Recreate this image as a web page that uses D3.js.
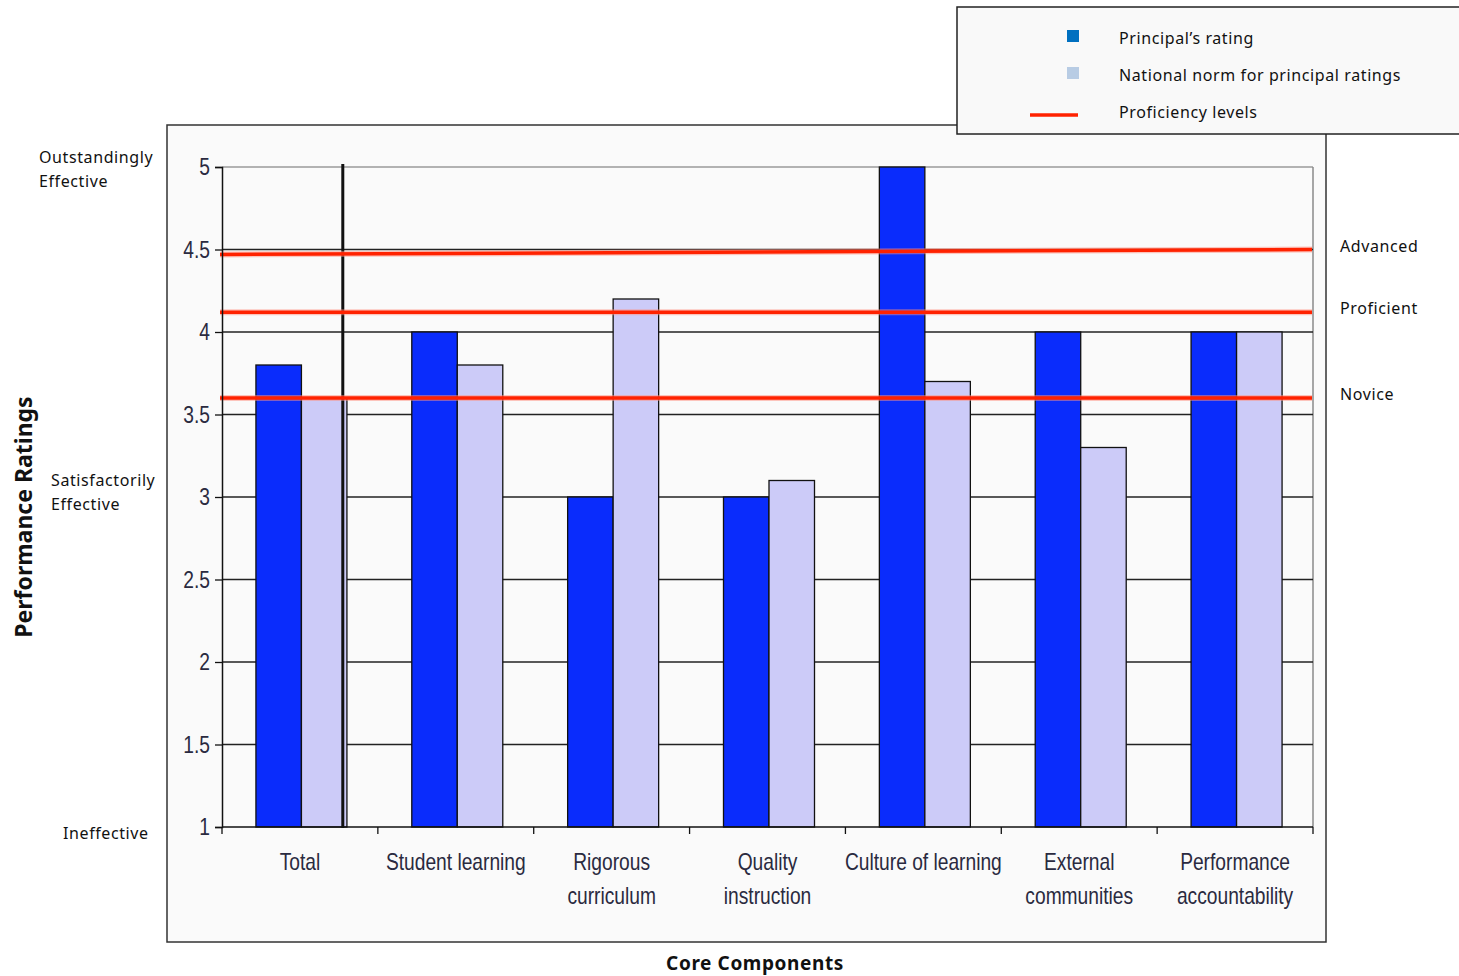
<!DOCTYPE html>
<html>
<head>
<meta charset="utf-8">
<script src="https://cdn.jsdelivr.net/npm/d3@7"></script>
<style>
  html, body { margin: 0; padding: 0; background: #ffffff; }
  svg { display: block; }
  .narrow { font-family: "Liberation Sans", Arial, sans-serif; }
  .soft { font-family: "Noto Sans", "DejaVu Sans", sans-serif; }
</style>
</head>
<body>
<svg id="chart" width="1459" height="976"></svg>
<script>
// Core components and ratings
const categories = [
  ["Total"],
  ["Student learning"],
  ["Rigorous", "curriculum"],
  ["Quality", "instruction"],
  ["Culture of learning"],
  ["External", "communities"],
  ["Performance", "accountability"]
];
const principalRating = [3.8, 4.0, 3.0, 3.0, 5.0, 4.0, 4.0];
const nationalNorm = [3.6, 3.8, 4.2, 3.1, 3.7, 3.3, 4.0];

// Proficiency levels (value at left edge, value at right edge)
const levelNames = ["Advanced", "Proficient", "Novice"];
const levelStart = [4.47, 4.12, 3.6];
const levelEnd = [4.5, 4.12, 3.6];

const yTicks = [1, 1.5, 2, 2.5, 3, 3.5, 4, 4.5, 5];
const descriptorValues = [5, 3, 1];
const descriptorLines = [["Outstandingly", "Effective"], ["Satisfactorily", "Effective"], ["Ineffective"]];
const legendItems = ["Principal\u2019s rating", "National norm for principal ratings", "Proficiency levels"];

const colPrincipal = "#0a2cfc";
const colNorm = "#cccbf8";
const colLevel = "#ff2200";
const squeeze = 0.8; // horizontal compression for the condensed axis lettering

const svg = d3.select("#chart");

const plot = { left: 222, right: 1313, top: 167, bottom: 827 };

const x = d3.scaleBand()
  .domain(d3.range(categories.length))
  .range([plot.left, plot.right]);
const bw = 45.5;
const y = d3.scaleLinear().domain([1, 5]).range([plot.bottom, plot.top]);

// Chart frame
svg.append("rect")
  .attr("x", 167).attr("y", 125).attr("width", 1159).attr("height", 817)
  .attr("fill", "#fafafa").attr("stroke", "#333").attr("stroke-width", 1.5);

// Plot area border (light)
svg.append("line")
  .attr("x1", plot.left).attr("x2", plot.right)
  .attr("y1", y(5)).attr("y2", y(5))
  .attr("stroke", "#9a9a9a").attr("stroke-width", 1.5);
svg.append("line")
  .attr("x1", plot.right).attr("x2", plot.right)
  .attr("y1", y(5)).attr("y2", y(1))
  .attr("stroke", "#8a8a8a").attr("stroke-width", 1.5);

// Horizontal gridlines
svg.append("g")
  .selectAll("line")
  .data(yTicks.filter(t => t > 1 && t < 5))
  .join("line")
  .attr("x1", plot.left).attr("x2", plot.right)
  .attr("y1", d => y(d)).attr("y2", d => y(d))
  .attr("stroke", "#222").attr("stroke-width", 1.3);

// Bars
const groups = svg.append("g")
  .selectAll("g")
  .data(categories.map((c, i) => i))
  .join("g")
  .attr("transform", i => `translate(${x(i) + (x.bandwidth() - 2 * bw) / 2 + 1.5},0)`);

groups.append("rect")
  .attr("x", 0)
  .attr("y", i => y(principalRating[i]))
  .attr("width", bw)
  .attr("height", i => y(1) - y(principalRating[i]))
  .attr("fill", colPrincipal).attr("stroke", "#111").attr("stroke-width", 1.3);

groups.append("rect")
  .attr("x", bw)
  .attr("y", i => y(nationalNorm[i]))
  .attr("width", bw)
  .attr("height", i => y(1) - y(nationalNorm[i]))
  .attr("fill", colNorm).attr("stroke", "#111").attr("stroke-width", 1.3);

// Separator after the Total group
svg.append("line")
  .attr("x1", x(0) + x.bandwidth() * 0.775).attr("x2", x(0) + x.bandwidth() * 0.775)
  .attr("y1", y(5) - 3).attr("y2", y(1) + 1)
  .attr("stroke", "#111").attr("stroke-width", 3);

// Proficiency level lines
const levels = svg.append("g");
const levelIdx = levelNames.map((n, i) => i);
levels.selectAll("line.glow")
  .data(levelIdx)
  .join("line")
  .attr("class", "glow")
  .attr("x1", plot.left - 2).attr("x2", plot.right - 1)
  .attr("y1", i => y(levelStart[i])).attr("y2", i => y(levelEnd[i]))
  .attr("stroke", "#ff9080").attr("stroke-width", 6).attr("opacity", 0.5);
levels.selectAll("line.core")
  .data(levelIdx)
  .join("line")
  .attr("class", "core")
  .attr("x1", plot.left - 2).attr("x2", plot.right - 1)
  .attr("y1", i => y(levelStart[i])).attr("y2", i => y(levelEnd[i]))
  .attr("stroke", colLevel).attr("stroke-width", 3.5);

levels.selectAll("text")
  .data(levelIdx)
  .join("text")
  .attr("class", "soft")
  .attr("x", 1340)
  .attr("y", i => y(levelEnd[i]) + 2)
  .attr("font-size", 16).attr("letter-spacing", 0.6)
  .attr("fill", "#111")
  .text(i => levelNames[i]);

// Y axis
const yAxis = svg.append("g")
  .attr("transform", `translate(${plot.left},0)`)
  .call(d3.axisLeft(y).tickValues(yTicks).tickSize(7).tickPadding(6).tickFormat(d => d3.format("")(d)));
yAxis.select(".domain").attr("stroke", "#111").attr("stroke-width", 1.5);
yAxis.selectAll(".tick line").attr("stroke", "#111").attr("stroke-width", 1.3);
yAxis.selectAll(".tick text")
  .attr("class", "narrow")
  .attr("x", null)
  .attr("transform", `translate(-12,0) scale(${squeeze},1)`)
  .attr("font-size", 24).attr("fill", "#2a2a40");

// X axis
const xAxis = svg.append("g")
  .attr("transform", `translate(0,${plot.bottom})`);
xAxis.append("line")
  .attr("x1", plot.left).attr("x2", plot.right)
  .attr("stroke", "#111").attr("stroke-width", 1.5);
xAxis.selectAll("line.tick")
  .data(d3.range(categories.length + 1))
  .join("line")
  .attr("class", "tick")
  .attr("x1", i => plot.left + i * x.bandwidth())
  .attr("x2", i => plot.left + i * x.bandwidth())
  .attr("y1", 0).attr("y2", 7)
  .attr("stroke", "#111").attr("stroke-width", 1.3);

const catLabels = xAxis.selectAll("text")
  .data(categories.map((c, i) => i))
  .join("text")
  .attr("class", "narrow")
  .attr("text-anchor", "middle")
  .attr("font-size", 24).attr("fill", "#2a2a40")
  .attr("transform", i => `translate(${x(i) + x.bandwidth() / 2},0) scale(${squeeze},1)`);
catLabels.selectAll("tspan")
  .data(i => categories[i])
  .join("tspan")
  .attr("x", 0)
  .attr("y", (d, j) => 43 + j * 34)
  .text(d => d);

// Rating descriptors on the left
const descriptorX = [39, 51, 63];
const descriptorDy = [-4, -11, 12];
descriptorValues.forEach((v, k) => {
  const t = svg.append("text")
    .attr("class", "soft")
    .attr("font-size", 16).attr("letter-spacing", 0.6).attr("fill", "#111");
  descriptorLines[k].forEach((line, j) => {
    t.append("tspan")
      .attr("x", descriptorX[k])
      .attr("y", y(v) + descriptorDy[k] + j * 24)
      .text(line);
  });
});

// Axis titles
svg.append("text")
  .attr("class", "soft")
  .attr("transform", "translate(32,517) rotate(-90)")
  .attr("text-anchor", "middle")
  .attr("font-size", 23).attr("font-weight", "bold").attr("fill", "#111")
  .text("Performance Ratings");

svg.append("text")
  .attr("class", "soft")
  .attr("x", 755).attr("y", 970)
  .attr("text-anchor", "middle")
  .attr("font-size", 19).attr("font-weight", "bold").attr("letter-spacing", 0.6).attr("fill", "#111")
  .text("Core Components");

// Legend
const legend = svg.append("g");
legend.append("rect")
  .attr("x", 957).attr("y", 7).attr("width", 520).attr("height", 127)
  .attr("fill", "#f9f9f9").attr("stroke", "#222").attr("stroke-width", 1.5);
const swatchColors = ["#0070c0", "#b8cce4"];
legend.selectAll("rect.sw")
  .data(swatchColors)
  .join("rect")
  .attr("class", "sw")
  .attr("x", 1067).attr("y", (d, i) => 30 + i * 37)
  .attr("width", 12).attr("height", 12)
  .attr("fill", d => d);
legend.append("line")
  .attr("x1", 1030).attr("x2", 1078).attr("y1", 115).attr("y2", 115)
  .attr("stroke", colLevel).attr("stroke-width", 3.5);
legend.selectAll("text")
  .data(legendItems)
  .join("text")
  .attr("class", "soft")
  .attr("x", 1119).attr("y", (d, i) => 44 + i * 37)
  .attr("font-size", 16).attr("letter-spacing", 0.6).attr("fill", "#111")
  .text(d => d);
</script>
</body>
</html>
